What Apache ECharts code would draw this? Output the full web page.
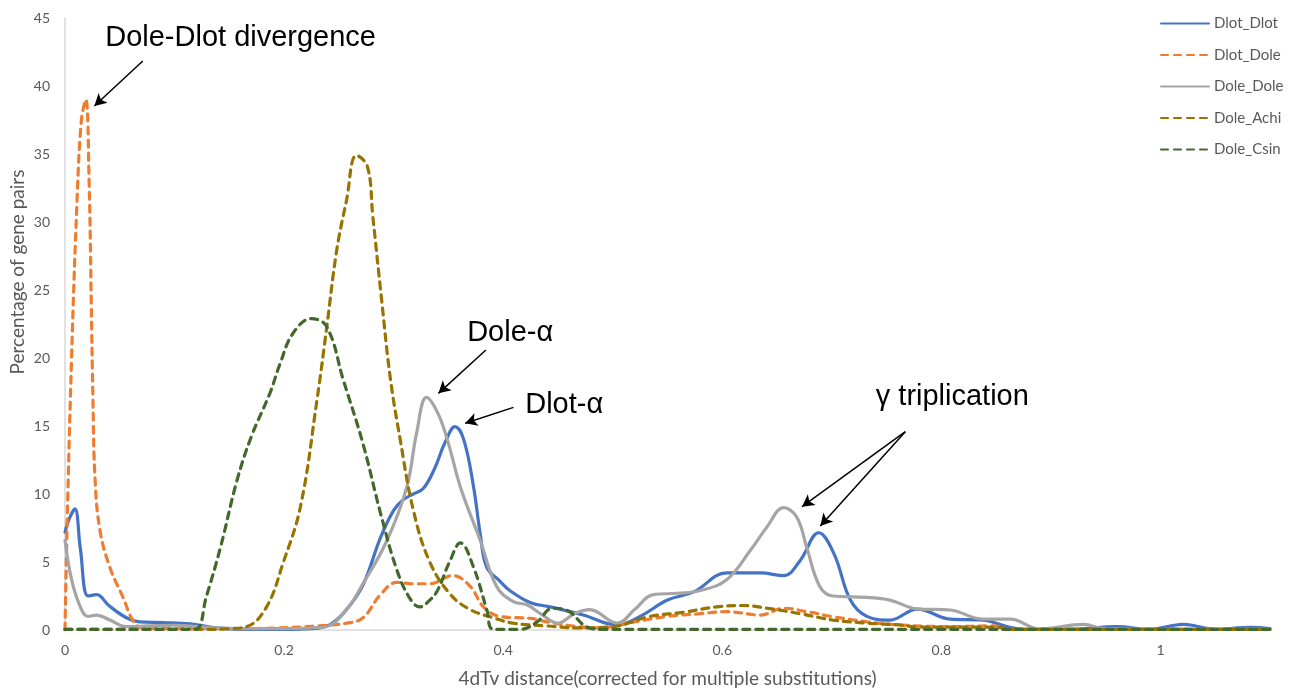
<!DOCTYPE html>
<html>
<head>
<meta charset="utf-8">
<script src="https://cdn.jsdelivr.net/npm/echarts@6/dist/echarts.min.js"></script>
<style>html,body{margin:0;padding:0;background:#fff}#c{width:1293px;height:689px}</style>
</head>
<body>
<div id="c"></div>
<script>
// ---- data ----
const seriesNames = ['Dlot_Dlot', 'Dlot_Dole', 'Dole_Dole', 'Dole_Achi', 'Dole_Csin'];

const dlotDlotX = [0, 0.004, 0.009, 0.014, 0.021, 0.029, 0.04, 0.056, 0.068, 0.09, 0.114, 0.138, 0.16, 0.2, 0.225, 0.242, 0.257, 0.272, 0.288, 0.3, 0.309, 0.318, 0.327, 0.337, 0.347, 0.356, 0.364, 0.373, 0.379, 0.385, 0.397, 0.406, 0.425, 0.443, 0.473, 0.504, 0.525, 0.55, 0.574, 0.604, 0.635, 0.656, 0.671, 0.688, 0.702, 0.717, 0.732, 0.753, 0.778, 0.808, 0.838, 0.86, 0.875, 0.92, 0.96, 0.99, 1.021, 1.05, 1.082, 1.1];
const dlotDlotY = [7.2, 8.2, 8.9, 6.0, 2.5, 2.6, 1.8, 0.9, 0.6, 0.55, 0.45, 0.15, 0.05, 0.05, 0.1, 0.4, 1.5, 3.3, 6.8, 8.8, 9.6, 10.0, 10.4, 11.8, 13.8, 14.95, 14.0, 10.5, 7.1, 4.6, 3.6, 2.9, 2.0, 1.7, 1.1, 0.37, 1.0, 2.2, 2.8, 4.2, 4.2, 4.0, 5.1, 7.15, 5.6, 2.2, 1.0, 0.73, 1.54, 0.8, 0.73, 0.25, 0.05, 0.05, 0.25, 0.05, 0.42, 0.05, 0.2, 0.1];

const dlotDoleX = [0, 0.002, 0.006, 0.011, 0.015, 0.019, 0.022, 0.024, 0.0255, 0.0275, 0.032, 0.041, 0.053, 0.062, 0.071, 0.1, 0.15, 0.196, 0.23, 0.257, 0.272, 0.288, 0.303, 0.318, 0.333, 0.354, 0.37, 0.382, 0.397, 0.425, 0.44, 0.468, 0.489, 0.513, 0.55, 0.58, 0.604, 0.635, 0.656, 0.677, 0.701, 0.732, 0.762, 0.808, 0.847, 0.865, 1.1];
const dlotDoleY = [0, 8, 20, 31.6, 37.5, 39, 33, 24, 17, 11, 7.3, 4.6, 2.4, 0.7, 0.15, 0.1, 0.1, 0.15, 0.3, 0.5, 0.9, 2.6, 3.5, 3.4, 3.4, 4.0, 3.2, 1.7, 1.0, 0.85, 0.6, 0.25, 0.15, 0.5, 1.0, 1.2, 1.35, 1.1, 1.6, 1.35, 0.98, 0.6, 0.37, 0.25, 0.3, 0.05, 0.05];

const doleDoleX = [0, 0.006, 0.014, 0.021, 0.029, 0.041, 0.056, 0.075, 0.1, 0.13, 0.16, 0.2, 0.236, 0.255, 0.272, 0.294, 0.312, 0.321, 0.33, 0.34, 0.349, 0.361, 0.379, 0.394, 0.409, 0.422, 0.434, 0.45, 0.465, 0.479, 0.504, 0.52, 0.537, 0.559, 0.58, 0.604, 0.626, 0.641, 0.656, 0.668, 0.677, 0.689, 0.701, 0.732, 0.753, 0.778, 0.808, 0.838, 0.863, 0.89, 0.93, 0.948, 1.0, 1.1];
const doleDoleY = [6.6, 3.7, 1.7, 1.0, 1.1, 0.73, 0.25, 0.3, 0.35, 0.2, 0.1, 0.1, 0.2, 1.3, 3.4, 6.6, 10.5, 14.5, 17.1, 16.0, 14.0, 10.5, 6.6, 3.2, 2.1, 1.84, 1.2, 0.5, 1.2, 1.5, 0.5, 1.5, 2.6, 2.7, 2.9, 3.7, 5.9, 7.6, 9.0, 8.3, 6.1, 3.2, 2.5, 2.4, 2.2, 1.55, 1.47, 0.8, 0.8, 0.07, 0.42, 0.1, 0.05, 0.05];

const doleAchiX = [0, 0.05, 0.1, 0.13, 0.15, 0.166, 0.184, 0.199, 0.215, 0.23, 0.239, 0.248, 0.257, 0.266, 0.276, 0.281, 0.289, 0.297, 0.306, 0.318, 0.333, 0.352, 0.37, 0.391, 0.409, 0.44, 0.468, 0.5, 0.534, 0.564, 0.595, 0.619, 0.641, 0.671, 0.701, 0.732, 0.762, 0.778, 0.85, 0.865, 1.1];
const doleAchiY = [0.05, 0.05, 0.05, 0.05, 0.1, 0.25, 1.7, 4.9, 9.1, 16.9, 22.3, 27.9, 31.6, 34.9, 34.1, 30.4, 24.3, 18.5, 14, 8.8, 5.0, 2.6, 1.5, 0.9, 0.5, 0.3, 0.15, 0.25, 1.0, 1.3, 1.7, 1.8, 1.6, 1.2, 0.73, 0.5, 0.37, 0.22, 0.2, 0.05, 0.05];

const doleCsinX = [0, 0.05, 0.1, 0.119, 0.129, 0.142, 0.157, 0.17, 0.187, 0.196, 0.208, 0.225, 0.239, 0.254, 0.272, 0.288, 0.303, 0.315, 0.324, 0.333, 0.34, 0.351, 0.361, 0.373, 0.385, 0.391, 0.416, 0.431, 0.445, 0.458, 0.477, 0.49, 0.6, 0.8, 1.0, 1.1];
const doleCsinY = [0.05, 0.05, 0.05, 0.05, 2.45, 6.1, 11, 14.2, 17.4, 19.5, 21.8, 22.9, 22.3, 18.4, 13.7, 8.6, 4.4, 2.3, 1.7, 2.2, 2.9, 5.0, 6.4, 4.6, 1.5, 0.05, 0.05, 0.6, 1.6, 1.45, 0.2, 0.05, 0.05, 0.05, 0.05, 0.05];

// annotations (data coordinates)
const annoTexts = ['Dole-Dlot divergence', 'Dole-α', 'Dlot-α', 'γ triplication'];
const annoX = [0.1603, 0.4064, 0.4557, 0.81];
const annoY = [43.5, 21.84, 16.54, 17.13];
const arrowFromX = [0.071, 0.3842, 0.4094, 0.7671, 0.7671];
const arrowFromY = [41.84, 20.59, 16.37, 14.58, 14.58];
const arrowToX = [0.0268, 0.3409, 0.3653, 0.6728, 0.6895];
const arrowToY = [38.53, 17.4, 15.2, 9.07, 7.65];

// ---- chart ----
const colors = ['#4472C4', '#ED7D31', '#A5A5A5', '#997300', '#43682B'];
const dashed = [false, true, false, true, true];
const xsList = [dlotDlotX, dlotDoleX, doleDoleX, doleAchiX, doleCsinX];
const ysList = [dlotDlotY, dlotDoleY, doleDoleY, doleAchiY, doleCsinY];
const font = 'Lato, "Open Sans", sans-serif';
const annoFont = '"Liberation Sans", Arial, sans-serif';

const series = seriesNames.map((name, i) => ({
  name: name,
  type: 'line',
  smooth: 0.4,
  showSymbol: false,
  symbol: 'none',
  data: xsList[i].map((x, k) => [x, ysList[i][k]]),
  lineStyle: { color: colors[i], width: 3.2, type: dashed[i] ? [7, 6] : 'solid', cap: 'round' },
  itemStyle: { color: colors[i] },
  z: 2 + i
}));

series.push({
  name: 'annotations',
  type: 'line',
  data: [],
  z: 10,
  markLine: {
    silent: true,
    symbol: ['none', 'arrow'],
    symbolSize: [10, 12],
    label: { show: false },
    lineStyle: { color: '#000', width: 1.5, type: 'solid' },
    data: arrowFromX.map((x, i) => [
      { coord: [x, arrowFromY[i]] },
      { coord: [arrowToX[i], arrowToY[i]] }
    ])
  },
  markPoint: {
    silent: true,
    symbol: 'circle',
    symbolSize: 1,
    itemStyle: { color: 'rgba(0,0,0,0)' },
    label: {
      show: true, position: 'inside', color: '#000',
      fontFamily: annoFont, fontSize: 29,
      formatter: p => p.name
    },
    data: annoTexts.map((t, i) => ({ name: t, coord: [annoX[i], annoY[i]] }))
  }
});

const chart = echarts.init(document.getElementById('c'), null, { renderer: 'canvas' });
chart.setOption({
  animation: false,
  backgroundColor: '#fff',
  grid: { left: 65, right: 23, top: 18, bottom: 59, containLabel: false, outerBoundsMode: 'none' },
  legend: {
    data: seriesNames,
    orient: 'vertical',
    left: 1160,
    top: 16,
    padding: 0,
    itemWidth: 48,
    itemHeight: 14,
    itemGap: 16.5,
    itemStyle: { opacity: 0 },
    textStyle: { color: '#595959', fontSize: 15, fontFamily: font }
  },
  xAxis: {
    type: 'value',
    min: 0,
    max: 1.1,
    interval: 0.2,
    name: '4dTv distance(corrected for multiple substitutions)',
    nameLocation: 'middle',
    nameGap: 39,
    nameTextStyle: { color: '#595959', fontSize: 19, fontFamily: font },
    axisLine: { show: true, lineStyle: { color: '#D9D9D9', width: 1.5 } },
    axisTick: { show: false },
    splitLine: { show: false },
    axisLabel: { color: '#595959', fontSize: 14, fontFamily: font, margin: 13, showMaxLabel: false }
  },
  yAxis: {
    type: 'value',
    min: 0,
    max: 45,
    interval: 5,
    name: 'Percentage of gene pairs',
    nameLocation: 'middle',
    nameGap: 38,
    nameMoveOverlap: false,
    nameTextStyle: { color: '#595959', fontSize: 19, fontFamily: font, padding: [0, 0, 0, 104] },
    axisLine: { show: true, lineStyle: { color: '#D9D9D9', width: 1.5 } },
    axisTick: { show: false },
    splitLine: { show: false },
    axisLabel: { color: '#595959', fontSize: 14, fontFamily: font, margin: 15 }
  },
  series: series
});
</script>
</body>
</html>
